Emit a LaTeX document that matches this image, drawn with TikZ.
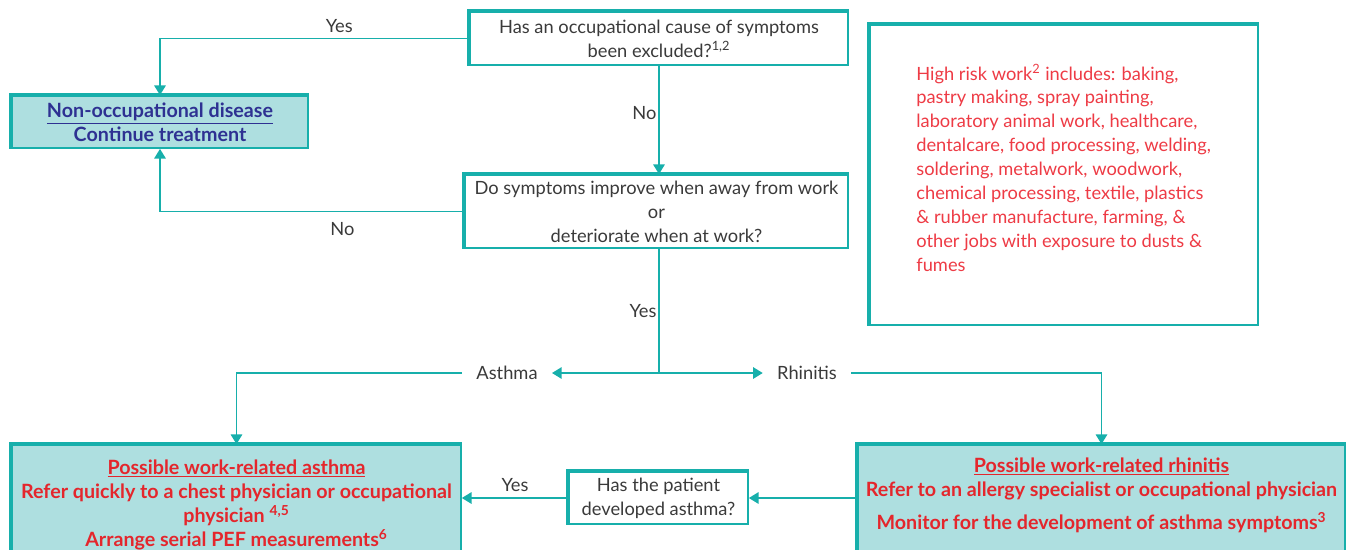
\documentclass[tikz,border=0pt]{standalone}
\usepackage{fontspec}
\setmainfont{Lato}
\usetikzlibrary{arrows.meta,positioning}
\definecolor{tealline}{HTML}{17AFAB}
\definecolor{boxfill}{HTML}{AEDFE0}
\definecolor{navytxt}{HTML}{2E3192}
\definecolor{redbold}{HTML}{E4262C}
\definecolor{redlight}{HTML}{EE3B45}
\definecolor{graytxt}{HTML}{3A3A3A}

\begin{document}
\begin{tikzpicture}[x=0.02cm,y=-0.02cm,
	font=\fontsize{10.4}{13.6}\selectfont,
	line/.style={tealline,line width=0.85pt},
	arr/.style={line,-{Triangle[width=6.5pt,length=5.5pt]}},
	qbox/.style={draw=tealline,line width=1pt,fill=white,align=center,text=graytxt,inner sep=0pt},
	gbox/.style={qbox,fill=boxfill},
	boldtxt/.style={font=\fontsize{11.2}{13.7}\selectfont\bfseries},
	thickedge/.style={tealline,line width=2.2pt},
	lbl/.style={text=graytxt,inner sep=1pt},
	branch/.style={text=graytxt,inner xsep=8pt,inner ysep=1pt}]
	\useasboundingbox (0,0) rectangle (1357,549);
	\clip (0,0) rectangle (1357,549);
	% questions
	\node[qbox,minimum width=7.56cm,minimum height=1.06cm] (q1) at (659,38.5)
		{Has an occupational cause of symptoms\\been excluded?\textsuperscript{1,2}};
	\node[qbox,minimum width=7.66cm,minimum height=1.46cm] (q2) at (656.5,211.5)
		{Do symptoms improve when away from work\\or\\deteriorate when at work?};
	\node[qbox,minimum width=3.58cm,minimum height=1.04cm] (q3) at (658.5,498)
		{Has the patient\\developed asthma?};
	% outcomes
	\node[gbox,boldtxt,minimum width=5.92cm,minimum height=1.04cm,text=navytxt] (nonocc) at (160,122)
		{\underline{Non-occupational disease}\\Continue treatment};
	\node[gbox,minimum width=8.98cm,minimum height=2.32cm] (abox) at (236.5,503) {};
	\node[gbox,minimum width=9.74cm,minimum height=2.32cm] (rbox) at (1101.5,503) {};
	\node[boldtxt,align=center,inner sep=0pt,text=redbold,below=0.3cm of abox.north] (atext)
		{\underline{Possible work-related asthma}\\Refer quickly to a chest physician or occupational\\physician \textsuperscript{4,5}\\Arrange serial PEF measurements\textsuperscript{6}};
	\node[boldtxt,align=center,inner sep=0pt,text=redbold,below=0.26cm of rbox.north] (rtext)
		{\underline{Possible work-related rhinitis}\\Refer to an allergy specialist or occupational physician\\[5.5pt]Monitor for the development of asthma symptoms\textsuperscript{3}};
	% high risk work
	\node[qbox,minimum width=7.76cm,minimum height=6cm] (risk) at (1064,175) {};
	\node[anchor=north west,align=left,inner sep=0pt,text=redlight] (risktext) at (916,64)
		{High risk work\textsuperscript{2} includes: baking,\\pastry making, spray painting,\\laboratory animal work, healthcare,\\dentalcare, food processing, welding,\\soldering, metalwork, woodwork,\\chemical processing, textile, plastics\\\& rubber manufacture, farming, \&\\other jobs with exposure to dusts \&\\fumes};
	\foreach \n in {q1,q2,q3,nonocc,abox,rbox,risk}{
		\draw[thickedge] (\n.south west) -- (\n.north west) -- (\n.north east);
	}
	% branches
	\coordinate (split) at (659,373);
	\node[branch] (asthma) at (507,373) {Asthma};
	\node[branch] (rhinitis) at (807,373) {Rhinitis};
	\draw[arr] (q1.west) -| node[lbl,pos=0.21,above=2pt] {Yes} (nonocc.north);
	\draw[arr] (q2.west) -| node[lbl,pos=0.2,below=5pt] {No} (nonocc.south);
	\draw[arr] (q1.south) -- node[lbl,left,yshift=4pt] {No} (q1.south |- q2.north);
	\draw[line] (split |- q2.south) -- node[lbl,left] {Yes} (split);
	\draw[arr] (split) -- (asthma.east);
	\draw[arr] (split) -- (rhinitis.west);
	\draw[arr] (asthma.west) -| (abox.north);
	\draw[arr] (rhinitis.east) -| (rbox.north);
	\draw[arr] (q3.east -| rbox.west) -- (q3.east);
	\draw[arr] (q3.west) -- node[lbl,above=2pt] {Yes} (q3.west -| abox.east);
\end{tikzpicture}
\end{document}
